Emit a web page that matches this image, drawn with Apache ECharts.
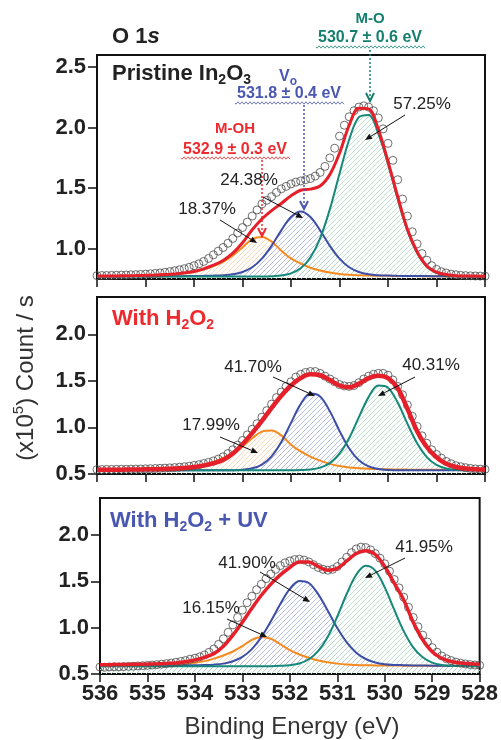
<!DOCTYPE html>
<html><head><meta charset="utf-8">
<script src="https://cdn.jsdelivr.net/npm/echarts@6/dist/echarts.min.js"></script>
<style>html,body{margin:0;padding:0;background:#fff}#c{width:501px;height:740px}</style>
</head><body><div id="c"></div>
<script>
// ---------- DATA ----------
const energyCoarse = [536.0,535.8,535.6,535.4,535.2,535.0,534.8,534.6,534.4,534.2,
  534.0,533.8,533.6,533.4,533.2,533.0,532.8,532.6,532.4,532.2,
  532.0,531.8,531.6,531.4,531.2,531.0,530.8,530.6,530.4,530.2,
  530.0,529.8,529.6,529.4,529.2,529.0,528.8,528.6,528.4,528.2,528.0];
const energyFine = [536.0,535.9,535.8,535.7,535.6,535.5,535.4,535.3,535.2,535.1,
  535.0,534.9,534.8,534.7,534.6,534.5,534.4,534.3,534.2,534.1,
  534.0,533.9,533.8,533.7,533.6,533.5,533.4,533.3,533.2,533.1,
  533.0,532.9,532.8,532.7,532.6,532.5,532.4,532.3,532.2,532.1,
  532.0,531.9,531.8,531.7,531.6,531.5,531.4,531.3,531.2,531.1,
  531.0,530.9,530.8,530.7,530.6,530.5,530.4,530.3,530.2,530.1,
  530.0,529.9,529.8,529.7,529.6,529.5,529.4,529.3,529.2,529.1,
  529.0,528.9,528.8,528.7,528.6,528.5,528.4,528.3,528.2,528.1,
  528.0];

// Pristine In2O3
const pristineMOH = [0.773,0.773,0.774,0.775,0.776,0.778,0.780,0.784,0.788,0.797,
  0.807,0.828,0.856,0.892,0.944,1.011,1.080,1.097,1.059,0.984,
  0.920,0.878,0.843,0.820,0.803,0.792,0.785,0.781,0.778,0.777,
  0.776,0.775,0.774,0.774,0.773,0.773,0.772,0.772,0.772,0.772,0.772];
const pristineVo = [0.771,0.771,0.771,0.772,0.772,0.772,0.773,0.773,0.773,0.774,
  0.775,0.776,0.778,0.781,0.789,0.808,0.847,0.918,1.024,1.152,
  1.262,1.307,1.262,1.152,1.024,0.918,0.847,0.808,0.789,0.781,
  0.778,0.776,0.775,0.774,0.774,0.773,0.773,0.772,0.772,0.771,0.771];
const pristineMO = [0.770,0.770,0.770,0.770,0.770,0.770,0.770,0.770,0.770,0.770,
  0.770,0.770,0.770,0.770,0.770,0.770,0.770,0.770,0.772,0.778,
  0.796,0.838,0.927,1.086,1.325,1.619,1.902,2.087,2.105,1.950,
  1.700,1.410,1.150,0.965,0.851,0.801,0.781,0.773,0.771,0.770,0.770];
const pristineFit = [0.774,0.774,0.775,0.777,0.778,0.780,0.783,0.787,0.791,0.801,
  0.812,0.834,0.864,0.903,0.963,1.049,1.157,1.246,1.315,1.374,
  1.438,1.483,1.492,1.518,1.612,1.789,2.020,2.160,2.155,1.985,
  1.720,1.430,1.160,0.975,0.858,0.807,0.787,0.777,0.775,0.774,0.773];
const pristineData = [0.778,0.779,0.779,0.780,0.781,0.782,0.783,0.785,0.786,0.788,
  0.790,0.793,0.796,0.800,0.805,0.811,0.818,0.826,0.835,0.846,
  0.860,0.875,0.895,0.920,0.950,0.980,1.010,1.045,1.085,1.130,
  1.175,1.220,1.270,1.320,1.370,1.400,1.430,1.465,1.495,1.515,
  1.535,1.550,1.560,1.570,1.580,1.600,1.630,1.680,1.750,1.830,
  1.930,2.020,2.090,2.140,2.170,2.180,2.170,2.140,2.080,1.990,
  1.870,1.730,1.570,1.410,1.270,1.140,1.040,0.960,0.905,0.860,
  0.830,0.810,0.800,0.790,0.785,0.780,0.778,0.776,0.775,0.774,
  0.773];

// With H2O2
const h2o2MOH = [0.543,0.544,0.545,0.546,0.547,0.549,0.552,0.555,0.559,0.567,
  0.580,0.600,0.630,0.673,0.725,0.794,0.884,0.955,0.966,0.914,
  0.815,0.742,0.686,0.643,0.609,0.585,0.570,0.562,0.556,0.553,
  0.550,0.549,0.547,0.546,0.546,0.545,0.544,0.544,0.543,0.543,0.543];
const h2o2Vo = [0.540,0.540,0.540,0.540,0.540,0.540,0.540,0.540,0.540,0.540,
  0.540,0.540,0.540,0.540,0.541,0.546,0.561,0.601,0.690,0.843,
  1.049,1.250,1.363,1.333,1.175,0.963,0.774,0.647,0.581,0.553,
  0.543,0.541,0.540,0.540,0.540,0.540,0.540,0.540,0.540,0.540,0.540];
const h2o2MO = [0.540,0.540,0.540,0.540,0.540,0.540,0.540,0.540,0.540,0.540,
  0.540,0.540,0.540,0.540,0.540,0.540,0.540,0.540,0.540,0.540,
  0.540,0.542,0.548,0.568,0.617,0.718,0.887,1.110,1.325,1.450,
  1.427,1.267,1.040,0.830,0.681,0.598,0.560,0.546,0.541,0.540,0.540];
const h2o2Fit = [0.545,0.545,0.546,0.547,0.548,0.550,0.552,0.555,0.559,0.565,
  0.575,0.592,0.615,0.650,0.720,0.820,0.940,1.070,1.210,1.340,
  1.450,1.530,1.570,1.560,1.510,1.450,1.430,1.470,1.530,1.555,
  1.530,1.420,1.200,0.960,0.790,0.680,0.610,0.575,0.558,0.550,0.547];
const h2o2Data = [0.548,0.548,0.549,0.549,0.550,0.551,0.551,0.552,0.553,0.554,
  0.556,0.557,0.559,0.561,0.563,0.566,0.569,0.573,0.578,0.584,
  0.592,0.600,0.612,0.625,0.640,0.660,0.685,0.720,0.760,0.810,
  0.860,0.920,0.980,1.040,1.110,1.180,1.250,1.320,1.380,1.440,
  1.490,1.540,1.570,1.590,1.600,1.600,1.580,1.550,1.520,1.490,
  1.460,1.445,1.440,1.450,1.480,1.520,1.550,1.570,1.580,1.580,
  1.560,1.510,1.440,1.350,1.240,1.120,1.010,0.910,0.830,0.760,
  0.710,0.670,0.635,0.610,0.590,0.578,0.568,0.560,0.555,0.552,
  0.550];

// With H2O2 + UV
const uvMOH = [0.588,0.588,0.589,0.590,0.591,0.593,0.595,0.597,0.602,0.609,
  0.621,0.639,0.666,0.700,0.743,0.802,0.869,0.899,0.880,0.821,
  0.758,0.711,0.675,0.645,0.626,0.612,0.603,0.598,0.595,0.593,
  0.592,0.591,0.590,0.589,0.589,0.588,0.588,0.588,0.588,0.588,0.588];
const uvVo = [0.587,0.587,0.588,0.588,0.589,0.589,0.590,0.591,0.592,0.593,
  0.594,0.597,0.601,0.612,0.637,0.685,0.769,0.898,1.069,1.256,
  1.419,1.505,1.482,1.360,1.182,0.996,0.841,0.730,0.662,0.625,
  0.606,0.598,0.595,0.592,0.591,0.590,0.590,0.589,0.589,0.588,0.588];
const uvMO = [0.585,0.585,0.585,0.585,0.585,0.585,0.585,0.585,0.585,0.585,
  0.585,0.585,0.585,0.585,0.585,0.585,0.585,0.585,0.585,0.588,
  0.595,0.613,0.659,0.749,0.903,1.121,1.366,1.572,1.668,1.616,
  1.435,1.194,0.963,0.788,0.680,0.623,0.598,0.589,0.586,0.585,0.585];
const uvFit = [0.600,0.601,0.602,0.603,0.605,0.607,0.610,0.614,0.620,0.632,
  0.652,0.680,0.720,0.800,0.920,1.060,1.210,1.350,1.470,1.570,
  1.650,1.710,1.710,1.660,1.620,1.640,1.720,1.800,1.830,1.790,
  1.660,1.480,1.300,1.060,0.870,0.740,0.670,0.635,0.618,0.610,0.605];
const uvData = [0.575,0.573,0.576,0.578,0.577,0.580,0.582,0.584,0.587,0.590,
  0.593,0.597,0.601,0.606,0.612,0.618,0.626,0.635,0.645,0.660,
  0.670,0.685,0.705,0.735,0.770,0.820,0.880,0.950,1.030,1.110,
  1.190,1.270,1.340,1.410,1.470,1.530,1.580,1.630,1.670,1.700,
  1.720,1.735,1.740,1.730,1.710,1.680,1.650,1.630,1.620,1.630,
  1.660,1.710,1.760,1.810,1.850,1.870,1.865,1.840,1.800,1.750,
  1.690,1.610,1.520,1.430,1.330,1.220,1.110,1.010,0.920,0.845,
  0.785,0.735,0.695,0.665,0.645,0.628,0.617,0.608,0.602,0.597,
  0.594];

const xTicks = [536,535,534,533,532,531,530,529,528];
const yTicksTop = [1.0,1.5,2.0,2.5];
const yTicksLow = [0.5,1.0,1.5,2.0];

// ---------- STYLE ----------
const FF = '"Liberation Sans", Arial, Helvetica, sans-serif';
const C_RED = '#e5202a', C_ORG = '#f58a1f', C_BLU = '#3d4ea6', C_TEAL = '#16887a';
const T_TEAL = '#157f6f', T_BLUE = '#4a57b2', T_RED = '#ee2a2e', TXT = '#222';

function hatch(color) {
  const c = document.createElement('canvas');
  c.width = 5; c.height = 5;
  const g = c.getContext('2d');
  g.strokeStyle = color; g.lineWidth = 1;
  g.beginPath();
  g.moveTo(0, 5); g.lineTo(5, 0);
  g.moveTo(-1, 1); g.lineTo(1, -1);
  g.moveTo(4, 6); g.lineTo(6, 4);
  g.stroke();
  return c;
}
const H_ORG = hatch('#f8d3ac'), H_BLU = hatch('#aab4e2'), H_TEAL = hatch('#b6dcc4');

const pair = (xs, ys) => xs.map((x, i) => [x, ys[i]]);

function compSeries(gi, ys, color, pat, z) {
  return {
    type: 'line', xAxisIndex: gi, yAxisIndex: gi, data: pair(energyCoarse, ys),
    smooth: 0.35, showSymbol: false, z: z,
    lineStyle: { color: color, width: 2 },
    areaStyle: { color: { image: pat, repeat: 'repeat' }, opacity: 0.85 }
  };
}
function panelSeries(gi, moh, vo, mo, fit, data, fitW) {
  return [
    compSeries(gi, moh, C_ORG, H_ORG, 2),
    compSeries(gi, vo, C_BLU, H_BLU, 2),
    compSeries(gi, mo, C_TEAL, H_TEAL, 2),
    { type: 'scatter', xAxisIndex: gi, yAxisIndex: gi, data: pair(energyFine, data),
      symbol: 'circle', symbolSize: 8, z: 3,
      itemStyle: { color: 'rgba(255,255,255,0)', borderColor: '#4a4a4a', borderWidth: 1 } },
    { type: 'line', xAxisIndex: gi, yAxisIndex: gi, data: pair(energyCoarse, fit),
      smooth: 0.35, showSymbol: false, z: 4, lineStyle: { color: C_RED, width: fitW } }
  ];
}

const grids = [
  { left: 97, top: 55, width: 388, height: 224 },
  { left: 97, top: 297, width: 388, height: 177 },
  { left: 100, top: 498, width: 382, height: 176 }
].map(g => Object.assign({ show: true, borderColor: '#111', borderWidth: 2, backgroundColor: 'transparent' }, g));

function xAxis(gi, showLabel) {
  return {
    type: 'value', gridIndex: gi, min: 528, max: 536, interval: 1, inverse: true,
    axisLine: { show: false }, splitLine: { show: false },
    axisTick: { show: true, inside: false, length: 8, lineStyle: { color: '#111', width: 1.5 } },
    axisLabel: { show: showLabel, fontSize: 22, fontWeight: 'bold', color: TXT, fontFamily: FF, margin: 9 }
  };
}
function yAxis(gi, min, max, ticks) {
  return {
    type: 'value', gridIndex: gi, min: min, max: max,
    axisLine: { show: false }, splitLine: { show: false },
    axisTick: { show: true, inside: false, length: 9, customValues: ticks, lineStyle: { color: '#111', width: 1.5 } },
    axisLabel: { customValues: ticks, fontSize: 22, fontWeight: 'bold', color: TXT, fontFamily: FF, margin: 11,
      formatter: v => Number(v).toFixed(1) }
  };
}

// ---------- ANNOTATIONS ----------
const mctx = document.createElement('canvas').getContext('2d');
const fontStr = (p) => `${p.style || 'normal'} ${p.weight || 'normal'} ${p.size}px ${FF}`;
function tw(t, f) { mctx.font = f; return mctx.measureText(t).width; }
function richText(x, y, parts, color, align) {
  const ws = parts.map(p => tw(p.t, fontStr(p)));
  const total = ws.reduce((a, b) => a + b, 0);
  let cx = align === 'center' ? x - total / 2 : x;
  return parts.map((p, i) => {
    const el = { type: 'text', x: cx, y: y + (p.dy || 0), z: 100,
      style: { text: p.t, fill: color, font: fontStr(p), align: 'left', verticalAlign: 'middle' } };
    cx += ws[i];
    return el;
  });
}
function arrow(x1, y1, x2, y2, color) {
  const a = Math.atan2(y2 - y1, x2 - x1), L = 7, W = 3;
  const bx = x2 - L * Math.cos(a), by = y2 - L * Math.sin(a);
  const px = -Math.sin(a) * W, py = Math.cos(a) * W;
  return [
    { type: 'line', z: 100, shape: { x1: x1, y1: y1, x2: bx, y2: by }, style: { stroke: color, lineWidth: 1 } },
    { type: 'polygon', z: 100, shape: { points: [[x2, y2], [bx + px, by + py], [bx - px, by - py]] }, style: { fill: color } }
  ];
}
function dottedDown(x, y1, y2, color) {
  return [
    { type: 'line', z: 100, shape: { x1: x, y1: y1, x2: x, y2: y2 - 1 }, style: { stroke: color, lineWidth: 1.5, lineDash: [2, 2] } },
    { type: 'polyline', z: 100, shape: { points: [[x - 4, y2 - 8], [x, y2], [x + 4, y2 - 8]] }, style: { stroke: color, lineWidth: 2, fill: null } }
  ];
}
function wavy(x1, x2, y, color) {
  const pts = [];
  for (let x = x1; x <= x2; x += 1) pts.push([x, y + 1.2 * Math.sin((x - x1) * Math.PI / 2)]);
  return { type: 'polyline', z: 100, shape: { points: pts }, style: { stroke: color, lineWidth: 0.8, fill: null } };
}

const G = [];
const add = a => { if (Array.isArray(a)) G.push(...a); else G.push(a); };
const B22 = { size: 22, weight: 'bold' }, S14 = { size: 14, weight: 'bold', dy: 6 };

add(richText(112, 37, [{ t: 'O 1', size: 22, weight: 'bold' }, { t: 's', size: 22, weight: 'bold', style: 'italic' }], TXT));
add(richText(112, 74, [Object.assign({ t: 'Pristine In' }, B22), Object.assign({ t: '2' }, S14), Object.assign({ t: 'O' }, B22), Object.assign({ t: '3' }, S14)], TXT));
add(richText(112, 319, [Object.assign({ t: 'With H' }, B22), Object.assign({ t: '2' }, S14), Object.assign({ t: 'O' }, B22), Object.assign({ t: '2' }, S14)], T_RED));
add(richText(110, 521, [Object.assign({ t: 'With H' }, B22), Object.assign({ t: '2' }, S14), Object.assign({ t: 'O' }, B22), Object.assign({ t: '2' }, S14), Object.assign({ t: ' + UV' }, B22)], T_BLUE));

add(richText(370, 19, [{ t: 'M-O', size: 15, weight: 'bold' }], T_TEAL, 'center'));
add(richText(370, 38, [{ t: '530.7 ± 0.6 eV', size: 16, weight: 'bold' }], T_TEAL, 'center'));
add(wavy(316, 425, 47, T_TEAL));
add(dottedDown(370, 50, 101, T_TEAL));

add(richText(279, 77, [{ t: 'V', size: 16, weight: 'bold' }, { t: 'o', size: 12, weight: 'bold', dy: 5 }], T_BLUE));
add(richText(289, 94, [{ t: '531.8 ± 0.4 eV', size: 16, weight: 'bold' }], T_BLUE, 'center'));
add(wavy(235, 344, 103, T_BLUE));
add(dottedDown(304, 105, 209, T_BLUE));

add(richText(235, 129, [{ t: 'M-OH', size: 15, weight: 'bold' }], T_RED, 'center'));
add(richText(235, 150, [{ t: '532.9 ± 0.3 eV', size: 16, weight: 'bold' }], T_RED, 'center'));
add(wavy(181, 290, 158, T_RED));
add(dottedDown(262, 160, 236, T_RED));

const pct = [
  ['57.25%', 422, 104, 405, 115, 365, 140],
  ['24.38%', 249, 180, 263, 197, 303, 218],
  ['18.37%', 207, 209, 220, 220, 257, 243],
  ['41.70%', 253, 367, 273, 377, 315, 396],
  ['40.31%', 431, 365, 415, 377, 378, 396],
  ['17.99%', 211, 425, 220, 437, 258, 453],
  ['41.90%', 247, 563, 260, 572, 310, 602],
  ['41.95%', 424, 547, 405, 558, 365, 578],
  ['16.15%', 211, 608, 227, 619, 267, 637]
];
pct.forEach(p => {
  add(richText(p[1], p[2], [{ t: p[0], size: 17 }], TXT, 'center'));
  add(arrow(p[3], p[4], p[5], p[6], '#111'));
});

// axis titles
add(richText(292, 727, [{ t: 'Binding Energy (eV)', size: 24 }], '#333', 'center'));
(function () {
  const parts = [{ t: '(x10', size: 24 }, { t: '5', size: 15, dy: -7 }, { t: ') Count / s', size: 24 }];
  const kids = richText(0, 0, parts, '#333', 'center');
  G.push({ type: 'group', x: 26, y: 378, rotation: Math.PI / 2, children: kids });
})();

// ---------- CHART ----------
const chart = echarts.init(document.getElementById('c'), null, { renderer: 'canvas' });
chart.setOption({
  animation: false,
  backgroundColor: '#fff',
  textStyle: { fontFamily: FF },
  grid: grids,
  xAxis: [xAxis(0, false), xAxis(1, false), xAxis(2, true)],
  yAxis: [yAxis(0, 0.75, 2.6, yTicksTop), yAxis(1, 0.5, 2.4, yTicksLow), yAxis(2, 0.5, 2.4, yTicksLow)],
  series: [].concat(
    panelSeries(0, pristineMOH, pristineVo, pristineMO, pristineFit, pristineData, 3),
    panelSeries(1, h2o2MOH, h2o2Vo, h2o2MO, h2o2Fit, h2o2Data, 4.5),
    panelSeries(2, uvMOH, uvVo, uvMO, uvFit, uvData, 3.5)
  ),
  graphic: { elements: G }
});
</script>
</body></html>
